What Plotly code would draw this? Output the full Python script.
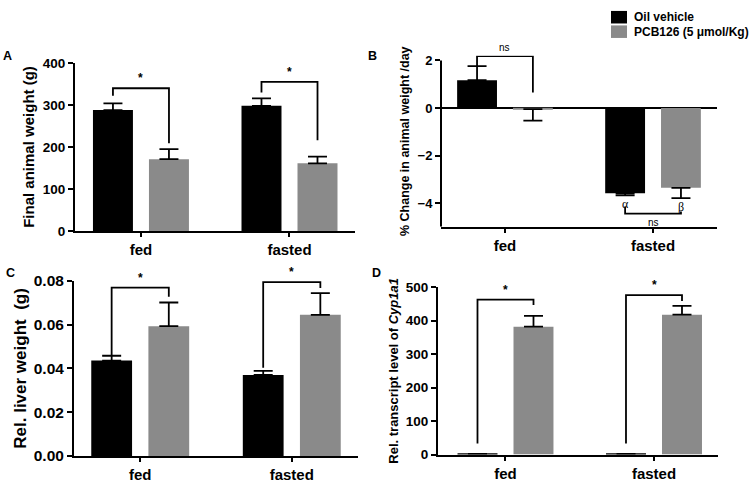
import plotly.graph_objects as go

# --- data ---------------------------------------------------------------
groups = ["fed", "fasted"]
series = ["Oil vehicle", "PCB126 (5 \u03bcmol/Kg)"]

# A: final animal weight (g)
weight_oil = [288, 298]
weight_oil_sem = [16, 18]
weight_pcb = [171, 161]
weight_pcb_sem = [24, 16]

# B: % change in animal weight / day
change_oil = [1.17, -3.59]
change_oil_sem = [0.59, 0.09]
change_pcb = [-0.05, -3.36]
change_pcb_sem = [0.48, 0.43]

# C: relative liver weight (g)
liver_oil = [0.0436, 0.0370]
liver_oil_sem = [0.0022, 0.0019]
liver_pcb = [0.0593, 0.0645]
liver_pcb_sem = [0.0108, 0.0099]

# D: relative Cyp1a1 transcript
cyp_oil = [2, 2]
cyp_oil_sem = [0, 0]
cyp_pcb = [382, 418]
cyp_pcb_sem = [32, 26]

# significance brackets per group: (top, left leg end, right leg end)
brackets_a = [(340, 322, 209), (355, 330, 216)]
brackets_b = [(2.18, 1.76, 0.65)]
brackets_c = [(0.0769, 0.0458, 0.0727), (0.0794, 0.0403, 0.0767)]
brackets_d = [(463, 33, 447), (476, 33, 459)]
labels_a = ["*", "*"]
labels_b = ["ns"]
labels_c = ["*", "*"]
labels_d = ["*", "*"]
# B fasted: oil vs pcb comparison below the bars
bracket_b_low = (-4.45, -4.15, -4.36)
letters_b = ["\u03b1", "\u03b2"]

BLACK = "#000000"
GRAY = "#8a8a8a"
FONT = "Liberation Sans, Arial, sans-serif"
W, H = 750, 485
OFF = 0.1886  # half distance between the two bar centres, in x units


def px(x, y):
    return x / W, 1 - y / H


fig = go.Figure()

panels = [
    # name, oil, oil sem, pcb, pcb sem, xpx, y top px, y bottom px, yrange, xrange
    ("", weight_oil, weight_oil_sem, weight_pcb, weight_pcb_sem,
     (75, 355), (56, 230), [0, 400], [-0.444, 1.441]),
    ("2", change_oil, change_oil_sem, change_pcb, change_pcb_sem,
     (441, 717), (48.4, 225.7), [-5, 2.2], [-0.432, 1.432]),
    ("3", liver_oil, liver_oil_sem, liver_pcb, liver_pcb_sem,
     (74, 358), (281.7, 463.3), [0, 0.08], [-0.437, 1.437]),
    ("4", cyp_oil, cyp_oil_sem, cyp_pcb, cyp_pcb_sem,
     (438, 718), (288.3, 461.7), [0, 500], [-0.4545, 1.431]),
]

xs = list(range(len(groups)))
for name, oil, oil_s, pcb, pcb_s, xp, yp, yr, xr in panels:
    for vals, sems, color in [(oil, oil_s, BLACK), (pcb, pcb_s, GRAY)]:
        up = [s if v >= 0 else 0 for v, s in zip(vals, sems)]
        down = [s if v < 0 else 0 for v, s in zip(vals, sems)]
        fig.add_trace(go.Bar(
            x=xs, y=vals, marker=dict(color=color, line=dict(width=0)),
            error_y=dict(type="data", symmetric=False, array=up, arrayminus=down,
                         color="black", thickness=1.8, width=9.5),
            xaxis="x" + name, yaxis="y" + name, showlegend=False,
        ))

    x0, y0 = px(xp[0], yp[1])
    x1, y1 = px(xp[1], yp[0])
    fig.layout["xaxis" + name] = dict(
        domain=[x0, x1], range=xr, tickvals=xs, ticktext=groups,
        anchor="y" + name, showline=True, linewidth=2, linecolor="black",
        ticks="outside", ticklen=4, tickwidth=1.5, tickcolor="black",
        showgrid=False, zeroline=False, fixedrange=True,
        tickfont=dict(family=FONT, size=15, color="black", weight="bold"),
    )
    fig.layout["yaxis" + name] = dict(
        domain=[y0, y1], range=yr, anchor="x" + name,
        showline=True, linewidth=2, linecolor="black",
        ticks="outside", ticklen=5, tickwidth=2, tickcolor="black",
        showgrid=False, zeroline=False, fixedrange=True,
        tickfont=dict(family=FONT, size=13.5, color="black", weight="bold"),
    )

# axis specifics
fig.layout.yaxis.update(tickvals=[0, 100, 200, 300, 400],
                        title=dict(text="Final animal weight (g)", standoff=5,
                                   font=dict(family=FONT, size=15, color="black", weight="bold")))
fig.layout.yaxis2.update(tickvals=[-4, -2, 0, 2], showline=False,
                         zeroline=True, zerolinecolor="black", zerolinewidth=2,
                         tickfont=dict(size=13),
                         title=dict(text="% Change in animal weight /day", standoff=5,
                                    font=dict(family=FONT, size=12.5, color="black", weight="bold")))
fig.layout.yaxis3.update(tickvals=[0, 0.02, 0.04, 0.06, 0.08], tickformat=".2f",
                         tickfont=dict(size=15.5),
                         title=dict(text="Rel. liver weight  (g)", standoff=3,
                                    font=dict(family=FONT, size=17, color="black", weight="bold")))
fig.layout.yaxis4.update(tickvals=[0, 100, 200, 300, 400, 500],
                         title=dict(text="Rel. transcript level of <i>Cyp1a1</i>", standoff=4,
                                    font=dict(family=FONT, size=13, color="black", weight="bold")))

# B y axis line only from -5 to 2
fig.add_shape(type="line", xref="x2 domain", yref="y2", x0=0, x1=0, y0=-5, y1=2,
              line=dict(color="black", width=2))


def add_brackets(name, brackets, labels, size, bold):
    for i, ((top, left_end, right_end), lab) in enumerate(zip(brackets, labels)):
        fig.add_trace(go.Scatter(
            x=[i - OFF, i - OFF, i + OFF, i + OFF],
            y=[left_end, top, top, right_end],
            mode="lines", line=dict(color="black", width=1.8),
            xaxis="x" + name, yaxis="y" + name, showlegend=False, hoverinfo="skip",
        ))
        fig.add_annotation(x=i, y=top, xref="x" + name, yref="y" + name, text=lab,
                           showarrow=False, yanchor="bottom", yshift=1,
                           font=dict(family=FONT, size=size, color="black",
                                     weight="bold" if bold else "normal"))


add_brackets("", brackets_a, labels_a, 12, True)
add_brackets("2", brackets_b, labels_b, 10, False)
add_brackets("3", brackets_c, labels_c, 12, True)
add_brackets("4", brackets_d, labels_d, 12, True)

# B fasted lower bracket
mid, low_l, low_r = bracket_b_low
fig.add_trace(go.Scatter(
    x=[1 - OFF, 1 - OFF, 1 + OFF, 1 + OFF], y=[low_l, mid, mid, low_r],
    mode="lines", line=dict(color="black", width=1.8),
    xaxis="x2", yaxis="y2", showlegend=False, hoverinfo="skip",
))
fig.add_annotation(x=1, y=mid, xref="x2", yref="y2", text="ns", showarrow=False,
                   yanchor="top", yshift=-1,
                   font=dict(family=FONT, size=10, color="black"))
for k, (val, sem) in enumerate([(change_oil[1], change_oil_sem[1]),
                                 (change_pcb[1], change_pcb_sem[1])]):
    fig.add_annotation(x=1 + (2 * k - 1) * OFF, y=val - sem, xref="x2", yref="y2",
                       text=letters_b[k], showarrow=False, yanchor="top", yshift=0,
                       font=dict(family="Liberation Serif, Times New Roman, serif",
                                 size=12, color="black"))

# panel letters
for letter, (lx, ly) in zip("ABCD", [(7.5, 49), (372, 49), (10, 274), (376, 274)]):
    ax_, ay_ = px(lx, ly)
    fig.add_annotation(x=ax_, y=ay_, xref="paper", yref="paper", text=letter,
                       showarrow=False, xanchor="center", yanchor="middle",
                       font=dict(family=FONT, size=12.5, color="black", weight="bold"))

# legend drawn by hand
for k, (name, color) in enumerate(zip(series, [BLACK, GRAY])):
    top = 2 + k * 15
    sx0, sy0 = px(611, top + 13)
    sx1, sy1 = px(627, top)
    fig.add_shape(type="rect", xref="paper", yref="paper", x0=sx0, x1=sx1, y0=sy0, y1=sy1,
                  fillcolor=color, line=dict(width=0))
    tx, ty = px(632, top + 6.5)
    fig.add_annotation(x=tx, y=ty, xref="paper", yref="paper", text=name,
                       showarrow=False, xanchor="left", yanchor="middle",
                       font=dict(family=FONT, size=12, color="black", weight="bold"))

fig.update_layout(
    width=W, height=H, margin=dict(l=0, r=0, t=0, b=0),
    paper_bgcolor="white", plot_bgcolor="white",
    barmode="group", bargap=0.246, bargroupgap=0.286,
    font=dict(family=FONT, color="black"),
)

fig.write_html("out.html", config={"displayModeBar": False},
               post_script="document.body.style.margin='0';document.body.style.overflow='hidden';")
